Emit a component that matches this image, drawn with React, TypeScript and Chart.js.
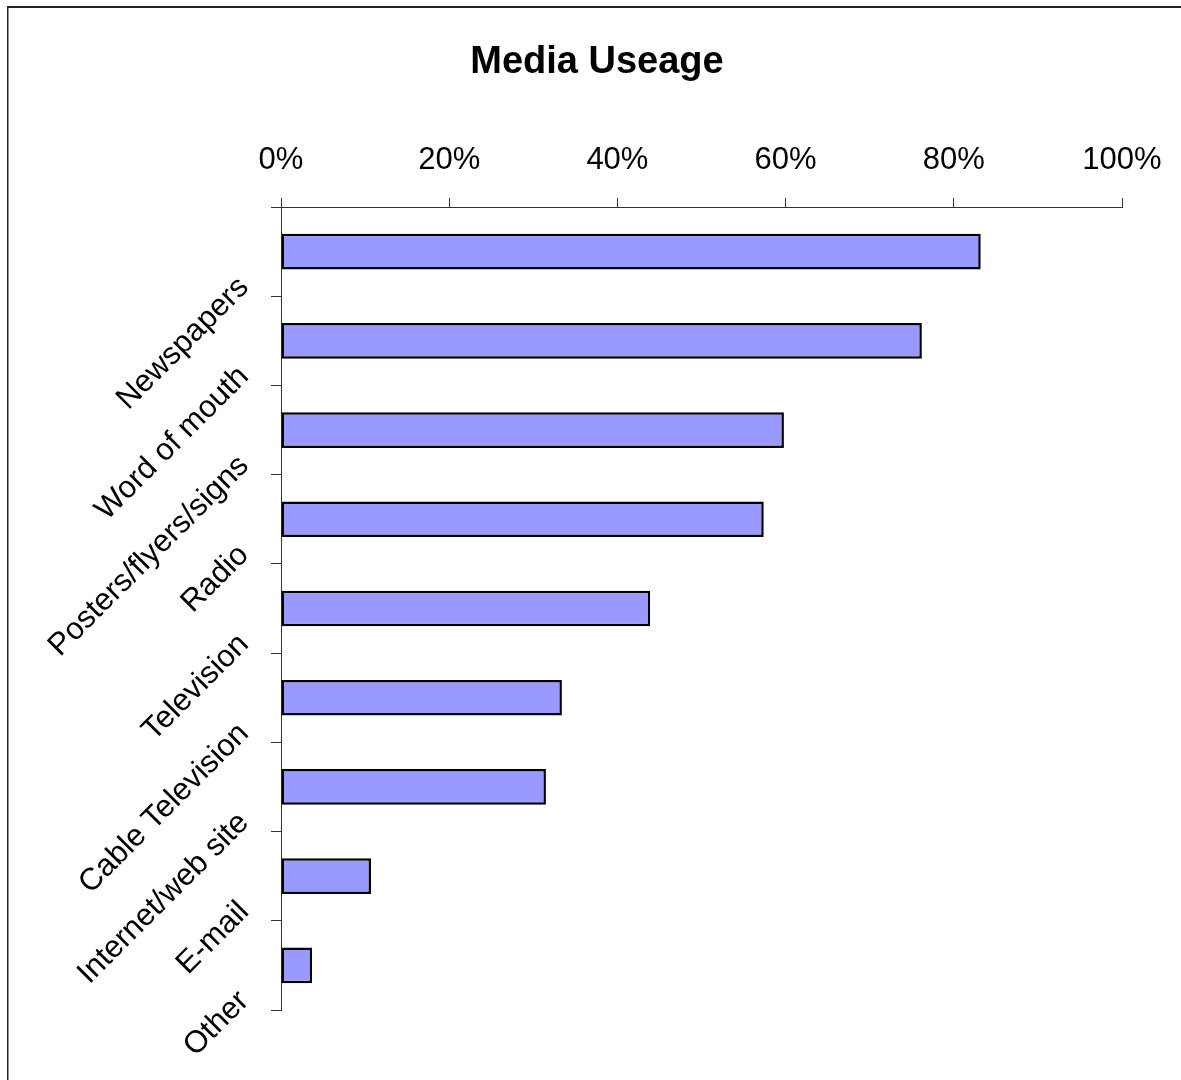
import React, { useEffect, useRef } from "react";
import { Chart, registerables } from "chart.js";

Chart.register(...registerables);

const categories = [
  "Newspapers",
  "Word of mouth",
  "Posters/flyers/signs",
  "Radio",
  "Television",
  "Cable Television",
  "Internet/web site",
  "E-mail",
  "Other",
];
const usage = [83.2, 76.2, 59.8, 57.4, 43.9, 33.4, 31.5, 10.7, 3.7];
const xTickValues = [0, 20, 40, 60, 80, 100];
const titleText = "Media Useage";

const FONT = "'Liberation Sans', Arial, Helvetica, sans-serif";

const framePlugin = {
  id: "frame",
  beforeDraw(chart: any) {
    const ctx = chart.ctx;
    ctx.save();
    ctx.fillStyle = "#ffffff";
    ctx.fillRect(0, 0, chart.width, chart.height);
    ctx.fillStyle = "#222222";
    ctx.fillRect(7, 6, chart.width - 7, 2);
    ctx.fillRect(7, 6, 1.5, chart.height - 6);
    // chart title
    ctx.fillStyle = "#000000";
    ctx.font = "bold 38px " + FONT;
    ctx.textAlign = "center";
    ctx.textBaseline = "alphabetic";
    ctx.fillText(titleText, 597, 72.7);
    ctx.restore();
  },
};

export default function App() {
  const ref = useRef<HTMLCanvasElement | null>(null);

  useEffect(() => {
    if (!ref.current) return;
    const chart = new Chart(ref.current, {
      type: "bar",
      data: {
        labels: categories,
        datasets: [
          {
            data: usage,
            backgroundColor: "#9999ff",
            borderColor: "#000000",
            borderWidth: 2.5,
            borderSkipped: false,
            categoryPercentage: 1,
            barPercentage: 0.4,
          },
        ],
      },
      plugins: [framePlugin],
      options: {
        indexAxis: "y",
        animation: false,
        responsive: false,
        maintainAspectRatio: false,
        layout: { padding: { left: 0, right: 59, top: 81.6, bottom: 70 } },
        plugins: {
          legend: { display: false },
          tooltip: { enabled: false },
          title: { display: false },
        },
        scales: {
          x: {
            type: "linear",
            position: "top",
            min: 0,
            max: 100,
            afterBuildTicks: (scale: any) => {
              scale.ticks = xTickValues.map((v) => ({ value: v }));
            },
            afterFit: (scale: any) => {
              scale.height = 125.4;
            },
            ticks: {
              callback: (v: any) => v + "%",
              color: "#000000",
              font: { family: FONT, size: 31, lineHeight: 1.2 },
              padding: 19,
              maxRotation: 0,
              minRotation: 0,
            },
            grid: {
              drawOnChartArea: false,
              drawTicks: true,
              tickLength: 9,
              color: "#333333",
              lineWidth: 1,
            },
            border: { display: true, color: "#333333", width: 1 },
          },
          y: {
            type: "category",
            position: "left",
            offset: true,
            afterFit: (scale: any) => {
              scale.width = 281;
            },
            ticks: {
              color: "#000000",
              font: { family: FONT, size: 31, lineHeight: 1.2 },
              minRotation: 45,
              maxRotation: 45,
              padding: 27,
              labelOffset: 31,
            },
            grid: {
              offset: true,
              drawOnChartArea: false,
              drawTicks: true,
              tickLength: 10,
              color: "#333333",
              lineWidth: 1,
            },
            border: { display: true, color: "#333333", width: 1 },
          },
        },
      },
    } as any);
    return () => chart.destroy();
  }, []);

  return (
    <div style={{ position: "absolute", left: 0, top: 0, width: 1181, height: 1080 }}>
      <canvas ref={ref} width={1181} height={1080} style={{ display: "block" }} />
    </div>
  );
}
